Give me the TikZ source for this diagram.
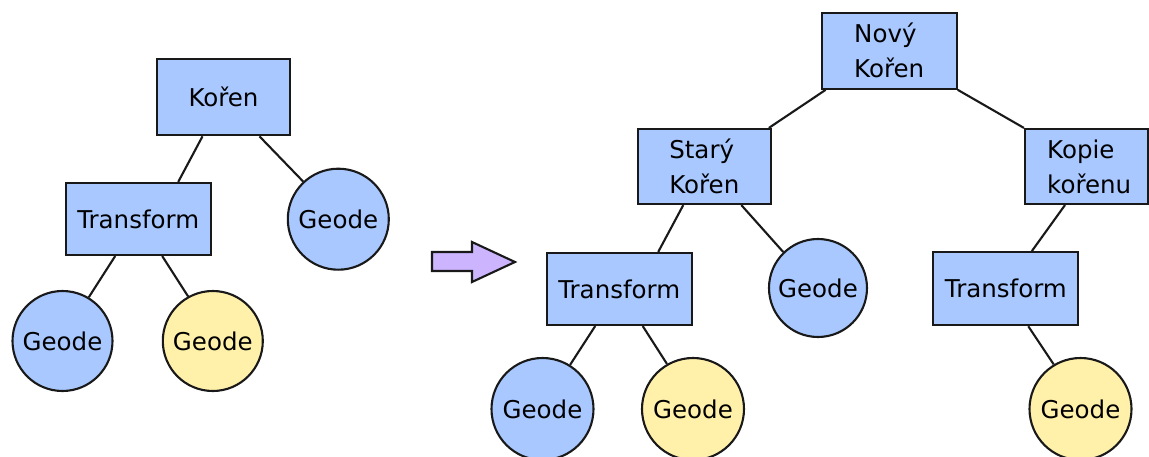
\documentclass[tikz,border=0pt]{standalone}
\usepackage{fontspec}
\setmainfont{DejaVu Sans}
\definecolor{nblue}{RGB}{168,200,255}
\definecolor{nyellow}{RGB}{255,240,170}
\definecolor{npurple}{RGB}{204,180,255}
\begin{document}
\begin{tikzpicture}[x=1pt,y=-1pt,
  every node/.style={font=\fontsize{24.5}{35}\selectfont, text=black},
  box/.style={draw=black!90, line width=2.1pt, fill=nblue, rectangle, inner sep=0pt, align=left},
  geode/.style={draw=black!90, line width=2.1pt, circle, inner sep=0pt, minimum size=100pt},
  bgeode/.style={geode, fill=nblue},
  ygeode/.style={geode, fill=nyellow},
  edge/.style={draw=black!90, line width=2.1pt},
  bigarrow/.style={draw=black!90, line width=2.1pt, fill=npurple, line join=miter}
]
\useasboundingbox (0,0) rectangle (1149,457);

% left tree
\node[box, minimum width=133pt, minimum height=76pt] (koren) at (223.5,97.3) {Kořen};
\node[box, minimum width=145pt, minimum height=72pt] (tr1) at (138.2,219) {Transform};
\node[bgeode, minimum size=101pt] (g1) at (338.3,219.2) {Geode};
\node[bgeode] (g2) at (62.5,341) {Geode};
\node[ygeode] (g3) at (212.8,341) {Geode};

\draw[edge] ([xshift=-21pt]koren.south) -- ([xshift=40pt]tr1.north);
\draw[edge] ([xshift=36pt]koren.south) -- (g1.133);
\draw[edge] ([xshift=-23pt]tr1.south) -- (g2.59);
\draw[edge] ([xshift=24pt]tr1.south) -- (g3.119);

% arrow
\draw[bigarrow] (432,252) coordinate (a1) -- (472,252) -- (472,242) -- (515,262) -- (472,282) -- (472,271) -- (432,271) -- cycle;

% right tree
\node[box, minimum width=135pt, minimum height=76pt] (nk) at (889.2,50.8) {Nový\\Kořen};
\node[box, minimum width=133pt, minimum height=75pt] (sk) at (704.3,166.5) {Starý\\Kořen};
\node[box, minimum width=123pt, minimum height=75pt] (kk) at (1086.5,166.5) {};
\node[anchor=west, align=left, inner sep=0pt] (kkt) at (1047,166.5) {Kopie\\kořenu};
\node[box, minimum width=145pt, minimum height=72pt] (tr2) at (619.2,289) {Transform};
\node[bgeode, minimum size=98pt] (g4) at (818,288) {Geode};
\node[box, minimum width=145pt, minimum height=73pt] (tr3) at (1005.8,288.7) {Transform};
\node[bgeode, minimum size=102pt] (g5) at (542.5,409) {Geode};
\node[ygeode, minimum size=102pt] (g6) at (693,409) {Geode};
\node[ygeode, minimum size=102pt] (g7) at (1080.5,409) {Geode};

\draw[edge] ([xshift=5pt]nk.south west) -- ([xshift=-3pt]sk.north east);
\draw[edge] (nk.south east) -- (kk.north west);
\draw[edge] ([xshift=-21pt]sk.south) -- ([xshift=39pt]tr2.north);
\draw[edge] ([xshift=37pt]sk.south) -- (g4.134);
\draw[edge] ([xshift=-24pt]tr2.south) -- (g5.58);
\draw[edge] ([xshift=23.5pt]tr2.south) -- (g6.120);
\draw[edge] ([xshift=-21.5pt]kk.south) -- ([xshift=26pt]tr3.north);
\draw[edge] ([xshift=22.5pt]tr3.south) -- (g7.121);
\end{tikzpicture}
\end{document}
